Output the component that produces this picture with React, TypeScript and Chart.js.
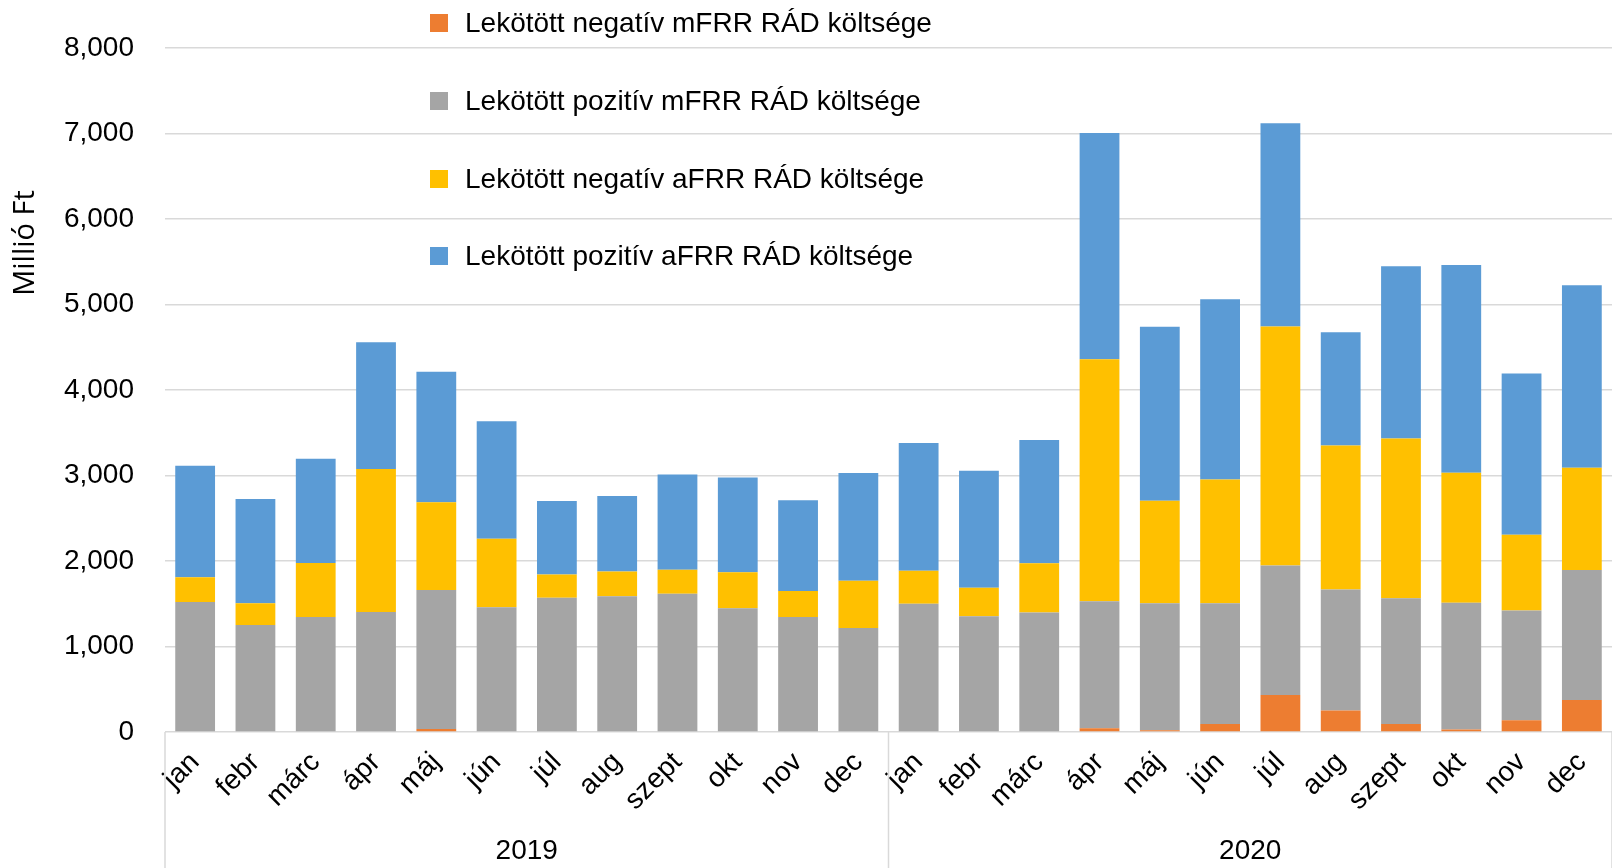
import React, { useEffect, useRef } from "react";
import Chart from "chart.js/auto";

const months = ["jan", "febr", "márc", "ápr", "máj", "jún", "júl", "aug", "szept", "okt", "nov", "dec"];
const years = ["2019", "2020"];
const categories = [...months, ...months];

const negMfrr = [0, 0, 0, 0, 35, 8, 0, 0, 0, 0, 0, 0, 0, 0, 0, 44, 20, 93, 433, 251, 93, 30, 138, 374];
const posMfrr = [1520, 1251, 1344, 1403, 1625, 1450, 1571, 1586, 1617, 1446, 1344, 1216, 1500, 1353, 1397, 1486, 1485, 1412, 1515, 1416, 1471, 1480, 1284, 1520];
const negAfrr = [288, 253, 632, 1672, 1025, 802, 272, 292, 281, 421, 304, 553, 384, 334, 575, 2828, 1200, 1446, 2794, 1683, 1869, 1520, 885, 1195];
const posAfrr = [1306, 1220, 1220, 1481, 1528, 1372, 858, 881, 1114, 1110, 1061, 1259, 1495, 1368, 1442, 2646, 2032, 2110, 2376, 1323, 2012, 2430, 1884, 2135];

const seriesNames = [
  "Lekötött negatív mFRR RÁD költsége",
  "Lekötött pozitív mFRR RÁD költsége",
  "Lekötött negatív aFRR RÁD költsége",
  "Lekötött pozitív aFRR RÁD költsége",
];
const seriesColors = ["#ED7D31", "#A5A5A5", "#FFC000", "#5B9BD5"];
const yTicks = [0, 1000, 2000, 3000, 4000, 5000, 6000, 7000, 8000];
const yTitle = "Millió Ft";

const FONT = "'Liberation Sans', Arial, sans-serif";

const groupPlugin = {
  id: "groupPlugin",
  afterDraw(chart: any) {
    const ctx = chart.ctx;
    const xs = chart.scales.x;
    const ca = chart.chartArea;
    ctx.save();
    ctx.strokeStyle = "#d9d9d9";
    ctx.lineWidth = 1.5;
    const sep = (xs.getPixelForValue(11) + xs.getPixelForValue(12)) / 2;
    [ca.left, sep, ca.right].forEach((x) => {
      ctx.beginPath();
      ctx.moveTo(x, ca.bottom);
      ctx.lineTo(x, chart.height);
      ctx.stroke();
    });
    ctx.fillStyle = "#000";
    ctx.font = `28px ${FONT}`;
    ctx.textAlign = "center";
    ctx.textBaseline = "middle";
    ctx.fillText(years[0], (ca.left + sep) / 2, 851);
    ctx.fillText(years[1], (sep + ca.right) / 2, 851);
    ctx.translate(26, 243);
    ctx.rotate(-Math.PI / 2);
    ctx.font = `29px 'Open Sans', ${FONT}`;
    ctx.fillText(yTitle, 0, 0);
    ctx.restore();
  },
};

export default function App() {
  const ref = useRef<HTMLCanvasElement>(null);
  useEffect(() => {
    const data = [negMfrr, posMfrr, negAfrr, posAfrr];
    const chart = new Chart(ref.current!, {
      type: "bar",
      data: {
        labels: categories,
        datasets: data.map((d, i) => ({
          label: seriesNames[i],
          data: d,
          backgroundColor: seriesColors[i],
          borderWidth: 0,
          barPercentage: 0.66,
          categoryPercentage: 1,
        })),
      },
      options: {
        responsive: false,
        animation: false,
        layout: { padding: { top: 47, left: 0, right: 0, bottom: 0 } },
        plugins: { legend: { display: false }, tooltip: { enabled: false } },
        scales: {
          x: {
            stacked: true,
            grid: { display: false },
            border: { display: false },
            ticks: {
              color: "#000",
              font: { family: FONT, size: 28 },
              minRotation: 45,
              maxRotation: 45,
              padding: 6,
              autoSkip: false,
            },
            afterFit(scale: any) {
              scale.height = 136;
            },
          },
          y: {
            stacked: true,
            min: 0,
            max: 8000,
            grid: { color: "#d9d9d9", lineWidth: 1.5, drawTicks: false },
            border: { display: false },
            afterBuildTicks(scale: any) {
              scale.ticks = yTicks.map((v) => ({ value: v }));
            },
            ticks: {
              color: "#000",
              font: { family: FONT, size: 28 },
              padding: 31,
              callback: (v: any) => Number(v).toLocaleString("en-US"),
            },
            afterFit(scale: any) {
              scale.width = 165;
            },
          },
        },
      },
      plugins: [groupPlugin],
    });
    return () => chart.destroy();
  }, []);

  const legendTops = [22.6, 100.7, 178.9, 256];
  return (
    <div style={{ position: "fixed", left: 0, top: 0, width: 1612, height: 868, background: "#fff" }}>
      <canvas ref={ref} width={1612} height={868} style={{ display: "block" }} />
      {seriesNames.map((n, i) => (
        <div
          key={n}
          style={{
            position: "absolute",
            left: 430,
            top: legendTops[i] - 17,
            height: 34,
            display: "flex",
            alignItems: "center",
            fontFamily: FONT,
            fontSize: 28,
            color: "#000",
            whiteSpace: "nowrap",
          }}
        >
          <span style={{ width: 18, height: 18, background: seriesColors[i], display: "inline-block", marginRight: 17 }} />
          <span>{n}</span>
        </div>
      ))}
    </div>
  );
}
